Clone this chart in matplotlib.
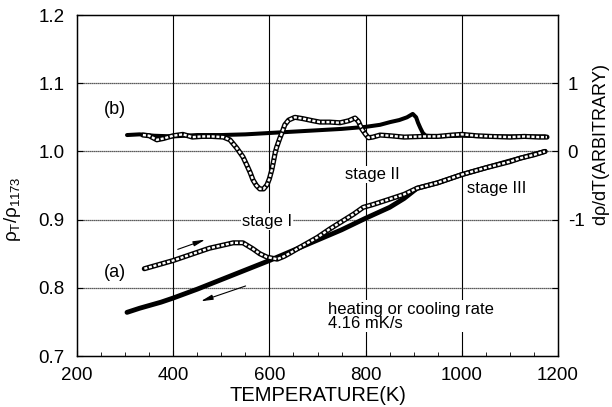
import numpy as np
import matplotlib
matplotlib.use('Agg')
import matplotlib.pyplot as plt
from matplotlib.ticker import FormatStrFormatter, MultipleLocator

plt.rcParams['font.family'] = ['Liberation Sans', 'DejaVu Sans']
plt.rcParams['mathtext.fontset'] = 'custom'
plt.rcParams['mathtext.rm'] = 'Liberation Sans'
plt.rcParams['mathtext.it'] = 'Liberation Sans'

# (a) resistivity ratio, heating (open circles)
t_heat = [340, 375, 400, 425, 450, 475, 500, 525, 545, 566, 580, 595, 616, 630, 643,
          660, 680, 700, 725, 750, 775, 795, 815, 850, 880, 907, 950, 1000, 1050,
          1100, 1121, 1150, 1173]
rho_heat = [0.828, 0.835, 0.840, 0.846, 0.852, 0.858, 0.862, 0.866, 0.866, 0.857,
            0.850, 0.845, 0.842, 0.846, 0.851, 0.858, 0.866, 0.874, 0.886, 0.897,
            0.908, 0.918, 0.922, 0.930, 0.937, 0.946, 0.954, 0.966, 0.976, 0.985,
            0.990, 0.995, 1.000]

# (a) resistivity ratio, cooling (filled)
t_cool = [304, 330, 350, 375, 400, 450, 500, 550, 600, 650, 700, 750, 800, 850,
          880, 907, 950, 1000, 1050, 1100, 1173]
rho_cool = [0.764, 0.770, 0.774, 0.779, 0.785, 0.798, 0.812, 0.826, 0.840, 0.855,
            0.870, 0.885, 0.902, 0.918, 0.931, 0.946, 0.954, 0.966, 0.976, 0.986,
            1.000]

# (b) derivative, heating (open circles), right axis units
t_dheat = [337, 350, 366, 380, 400, 420, 440, 460, 480, 504, 518, 532, 545, 553,
           560, 566, 573, 580, 588, 595, 600, 605, 609, 612, 615, 618, 622, 626,
           632, 640, 653, 670, 690, 705, 725, 747, 765, 778, 785, 792, 800, 806,
           815, 830, 850, 880, 920, 950, 980, 1000, 1030, 1060, 1100, 1130, 1160, 1177]
d_heat = [0.24, 0.23, 0.17, 0.19, 0.23, 0.25, 0.21, 0.22, 0.22, 0.21, 0.17, 0.05,
          -0.08, -0.20, -0.31, -0.42, -0.50, -0.55, -0.55, -0.49, -0.40, -0.27,
          -0.13, -0.02, 0.06, 0.12, 0.20, 0.27, 0.39, 0.46, 0.50, 0.48, 0.45, 0.43,
          0.43, 0.42, 0.45, 0.49, 0.44, 0.33, 0.25, 0.20, 0.21, 0.24, 0.23, 0.21,
          0.22, 0.22, 0.24, 0.25, 0.23, 0.22, 0.21, 0.22, 0.21, 0.21]

# (b) derivative, cooling (filled)
t_dcool = [304, 330, 360, 400, 450, 500, 550, 600, 650, 700, 750, 800, 830, 851,
           870, 886, 898, 905, 909, 914, 919, 925, 950, 1000, 1050, 1100, 1173]
d_cool = [0.24, 0.25, 0.23, 0.22, 0.24, 0.24, 0.25, 0.27, 0.29, 0.31, 0.33, 0.36,
          0.39, 0.43, 0.46, 0.50, 0.55, 0.50, 0.42, 0.34, 0.27, 0.23, 0.22, 0.23,
          0.22, 0.22, 0.22]


def chain(axis, x, y):
    # chain of small open circles drawn as a hollow beaded line
    axis.plot(x, y, color='k', lw=3.7, solid_capstyle='round', solid_joinstyle='round', zorder=3)
    axis.plot(x, y, color='w', lw=1.7, dashes=(1.3, 0.7), dash_capstyle='butt', zorder=4)


fig = plt.figure(figsize=(6.12, 4.07), dpi=100)
ax = fig.add_axes([0.1258, 0.1253, 0.786, 0.8378])
ax.set_xlim(200, 1200)
ax.set_ylim(0.7, 1.2)

for x in [400, 600, 800, 1000]:
    ax.axvline(x, color='k', lw=0.8, zorder=1)
for y in [0.8, 0.9, 1.0, 1.1]:
    ax.axhline(y, color='0.15', lw=0.9, dashes=(1, 0.6), zorder=1)

ax.plot(t_cool, rho_cool, color='k', lw=3.5, solid_capstyle='round', zorder=3)
chain(ax, t_heat, rho_heat)

ax.xaxis.set_major_locator(MultipleLocator(200))
ax.xaxis.set_minor_locator(MultipleLocator(50))
ax.yaxis.set_major_locator(MultipleLocator(0.1))
ax.yaxis.set_major_formatter(FormatStrFormatter('%.1f'))
ax.tick_params(axis='both', which='both', direction='in', labelsize=13.5)
ax.tick_params(axis='x', which='major', length=4, pad=8)
ax.tick_params(axis='x', which='minor', length=3)
ax.tick_params(axis='y', which='major', length=4, pad=9)
for s in ax.spines.values():
    s.set_linewidth(1.0)

ax.set_xlabel('TEMPERATURE(K)', fontsize=14.5, labelpad=1)
ax.set_ylabel(r'$\rho_{\rm T}/\rho_{1173}$', fontsize=13.5)
ax.yaxis.set_label_coords(-0.112, 0.43)

ax2 = ax.twinx()
ax2.set_ylim(-3, 2)
ax2.set_yticks([-2, -1, 0, 1])
ax2.set_yticklabels(['', '-1', '0', '1'])
ax2.tick_params(axis='y', direction='in', length=4, pad=7, labelsize=13.5)
ax2.plot(t_dcool, d_cool, color='k', lw=2.9, solid_capstyle='round', zorder=3)
chain(ax2, t_dheat, d_heat)
ax2.set_ylabel(r'd$\rho$/dT(ARBITRARY)', fontsize=13)
ax2.yaxis.set_label_coords(1.068, 0.62)

box = dict(facecolor='white', edgecolor='none', pad=1)
ax.text(278, 1.061, '(b)', fontsize=13, ha='center', va='center')
ax.text(279, 0.823, '(a)', fontsize=13, ha='center', va='center')
ax.text(595, 0.897, 'stage I', fontsize=12, ha='center', va='center', bbox=box, zorder=2)
ax.text(815, 0.966, 'stage II', fontsize=12, ha='center', va='center', bbox=box, zorder=2)
ax.text(1073, 0.946, 'stage III', fontsize=12, ha='center', va='center', zorder=2)
ax.text(722, 0.758, 'heating or cooling rate\n4.16 mK/s', fontsize=12,
        ha='left', va='center', linespacing=0.95, bbox=box, zorder=2)

arrow = dict(arrowstyle='-|>,head_length=0.7,head_width=0.15', color='k', lw=0.8)
ax.annotate('', xy=(472, 0.872), xytext=(404, 0.855), arrowprops=arrow)
ax.annotate('', xy=(452, 0.779), xytext=(556, 0.804), arrowprops=arrow)

fig.savefig('out.png', dpi=100)
